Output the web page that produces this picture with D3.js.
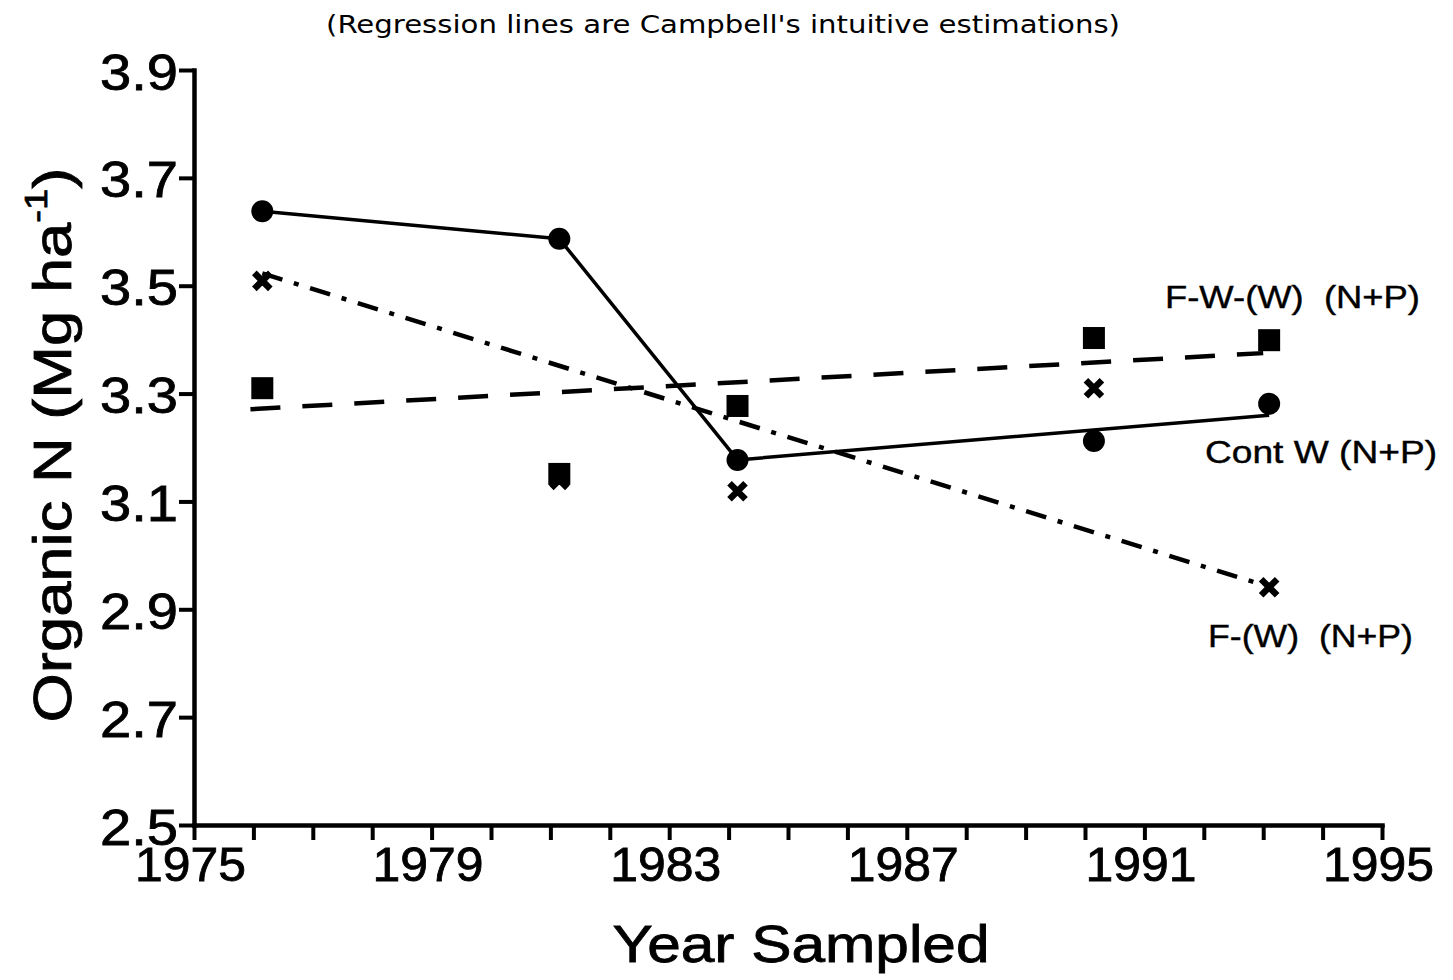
<!DOCTYPE html>
<html>
<head>
<meta charset="utf-8">
<script src="https://cdn.jsdelivr.net/npm/d3@7"></script>
<style>
  body { margin: 0; background: #fff; }
  text { white-space: pre; }
</style>
</head>
<body>
<script>
// sampling years and organic N values (Mg/ha)
const years = [1976.15, 1981.15, 1984.15, 1990.15, 1993.1];
const contW = [3.638, 3.587, 3.177, 3.212, 3.281];   // circles
const fww = [3.310, 3.151, 3.277, 3.403, 3.399];     // squares
const fw = [3.509, 3.140, 3.119, 3.310, 2.941];      // crosses

// hand-drawn "regression" lines
const contWLineYears = [1976.15, 1981.15, 1984.15, 1993.1];
const contWLineVals = [3.638, 3.587, 3.177, 3.260];
const fwwRegYears = [1975.95, 1993.0];
const fwwRegVals = [3.271, 3.375];
const fwRegYears = [1976.15, 1993.0];
const fwRegVals = [3.523, 2.945];

const xTicks = d3.range(1975, 1996);
const xLabels = [1975, 1979, 1983, 1987, 1991, 1995];
const yTicks = [2.5, 2.7, 2.9, 3.1, 3.3, 3.5, 3.7, 3.9];

const width = 1453, height = 980;
const svg = d3.select("body").append("svg")
  .attr("width", width)
  .attr("height", height)
  .style("font-family", "'Liberation Sans', Arial, sans-serif");

const x = d3.scaleLinear().domain([1975, 1995]).range([194, 1382]);
const y = d3.scaleLinear().domain([2.5, 3.9]).range([825, 70]);

// title
svg.append("text")
  .attr("x", 723).attr("y", 33)
  .attr("text-anchor", "middle")
  .style("font-family", "'DejaVu Sans', Verdana, sans-serif")
  .style("font-size", "25px")
  .attr("textLength", 794).attr("lengthAdjust", "spacingAndGlyphs")
  .text("(Regression lines are Campbell's intuitive estimations)");

// x axis
const xAxis = svg.append("g")
  .attr("transform", "translate(0," + y(2.5) + ")")
  .call(d3.axisBottom(x)
    .tickValues(xTicks)
    .tickSize(15)
    .tickSizeOuter(0)
    .tickFormat(d => xLabels.includes(d) ? d : ""));
xAxis.select(".domain").attr("stroke-width", 4.5).attr("stroke-linecap", "square");
xAxis.selectAll(".tick line").attr("stroke-width", 4);
xAxis.selectAll(".tick text")
  .attr("y", 22)
  .attr("x", -4)
  .style("font-size", "48px")
  .attr("fill", "#000").attr("stroke", "#000").attr("stroke-width", 0.8)
  .each(function(d) {
    if (xLabels.includes(d)) d3.select(this).attr("textLength", 111).attr("lengthAdjust", "spacingAndGlyphs");
  });

// y axis
const yAxis = svg.append("g")
  .attr("transform", "translate(" + x(1975) + ",0)")
  .call(d3.axisLeft(y)
    .tickValues(yTicks)
    .tickSize(15)
    .tickSizeOuter(0)
    .tickFormat(d3.format(".1f")));
yAxis.select(".domain").attr("stroke-width", 4.5).attr("stroke-linecap", "square");
yAxis.selectAll(".tick line").attr("stroke-width", 4);
yAxis.selectAll(".tick text")
  .attr("x", -16)
  .attr("dy", "0.38em")
  .style("font-size", "50px")
  .attr("fill", "#000").attr("stroke", "#000").attr("stroke-width", 0.8)
  .attr("textLength", 78).attr("lengthAdjust", "spacingAndGlyphs");

// axis titles
svg.append("text")
  .attr("x", 801).attr("y", 962)
  .attr("text-anchor", "middle")
  .style("font-size", "52px")
  .attr("stroke", "#000").attr("stroke-width", 0.8)
  .attr("textLength", 377).attr("lengthAdjust", "spacingAndGlyphs")
  .text("Year Sampled");

const yTitleG = svg.append("g")
  .attr("transform", "translate(71,445) rotate(-90)");
const yTitle = yTitleG.append("text")
  .attr("text-anchor", "middle")
  .style("font-size", "53px")
  .attr("stroke", "#000").attr("stroke-width", 0.8);
yTitle.append("tspan").text("Organic N (Mg ha");
yTitle.append("tspan").attr("dy", -24).style("font-size", "32px").text("-1");
yTitle.append("tspan").attr("dy", 24).text(")");
const natural = yTitle.node().getBBox().width;
yTitle.attr("transform", "scale(" + (555 / natural) + ",1)");

// lines
const line = d3.line().x(d => x(d[0])).y(d => y(d[1]));

svg.append("path")
  .datum(d3.zip(contWLineYears, contWLineVals))
  .attr("d", line)
  .attr("fill", "none").attr("stroke", "#000")
  .attr("stroke-width", 3.5).attr("stroke-linejoin", "round");

svg.append("path")
  .datum(d3.zip(fwwRegYears, fwwRegVals))
  .attr("d", line)
  .attr("fill", "none").attr("stroke", "#000")
  .attr("stroke-width", 4.5)
  .attr("stroke-dasharray", "30,22");

svg.append("path")
  .datum(d3.zip(fwRegYears, fwRegVals))
  .attr("d", line)
  .attr("fill", "none").attr("stroke", "#000")
  .attr("stroke-width", 4.5)
  .attr("stroke-dasharray", "21,12,5,12");

// markers
svg.append("g").selectAll("circle")
  .data(d3.zip(years, contW))
  .enter().append("circle")
  .attr("cx", d => x(d[0]))
  .attr("cy", d => y(d[1]))
  .attr("r", 11)
  .attr("fill", "#000");

svg.append("g").selectAll("path")
  .data(d3.zip(years, fw))
  .enter().append("path")
  .attr("transform", d => "translate(" + x(d[0]) + "," + y(d[1]) + ")")
  .attr("d", "M-8,-8L8,8M8,-8L-8,8")
  .attr("stroke", "#000")
  .attr("stroke-width", 6.5);

svg.append("g").selectAll("rect")
  .data(d3.zip(years, fww))
  .enter().append("rect")
  .attr("x", d => x(d[0]) - 11)
  .attr("y", d => y(d[1]) - 11)
  .attr("width", 22).attr("height", 22)
  .attr("fill", "#000");

// series labels
const seriesLabels = [
  { text: "F-W-(W)  (N+P)", x: 1165, y: 308, w: 255 },
  { text: "Cont W (N+P)", x: 1205, y: 463, w: 232 },
  { text: "F-(W)  (N+P)", x: 1208, y: 647, w: 205 }
];
svg.append("g").selectAll("text")
  .data(seriesLabels)
  .enter().append("text")
  .attr("x", d => d.x).attr("y", d => d.y)
  .style("font-size", "31px")
  .attr("stroke", "#000").attr("stroke-width", 0.4)
  .attr("textLength", d => d.w).attr("lengthAdjust", "spacingAndGlyphs")
  .text(d => d.text);
</script>
</body>
</html>
